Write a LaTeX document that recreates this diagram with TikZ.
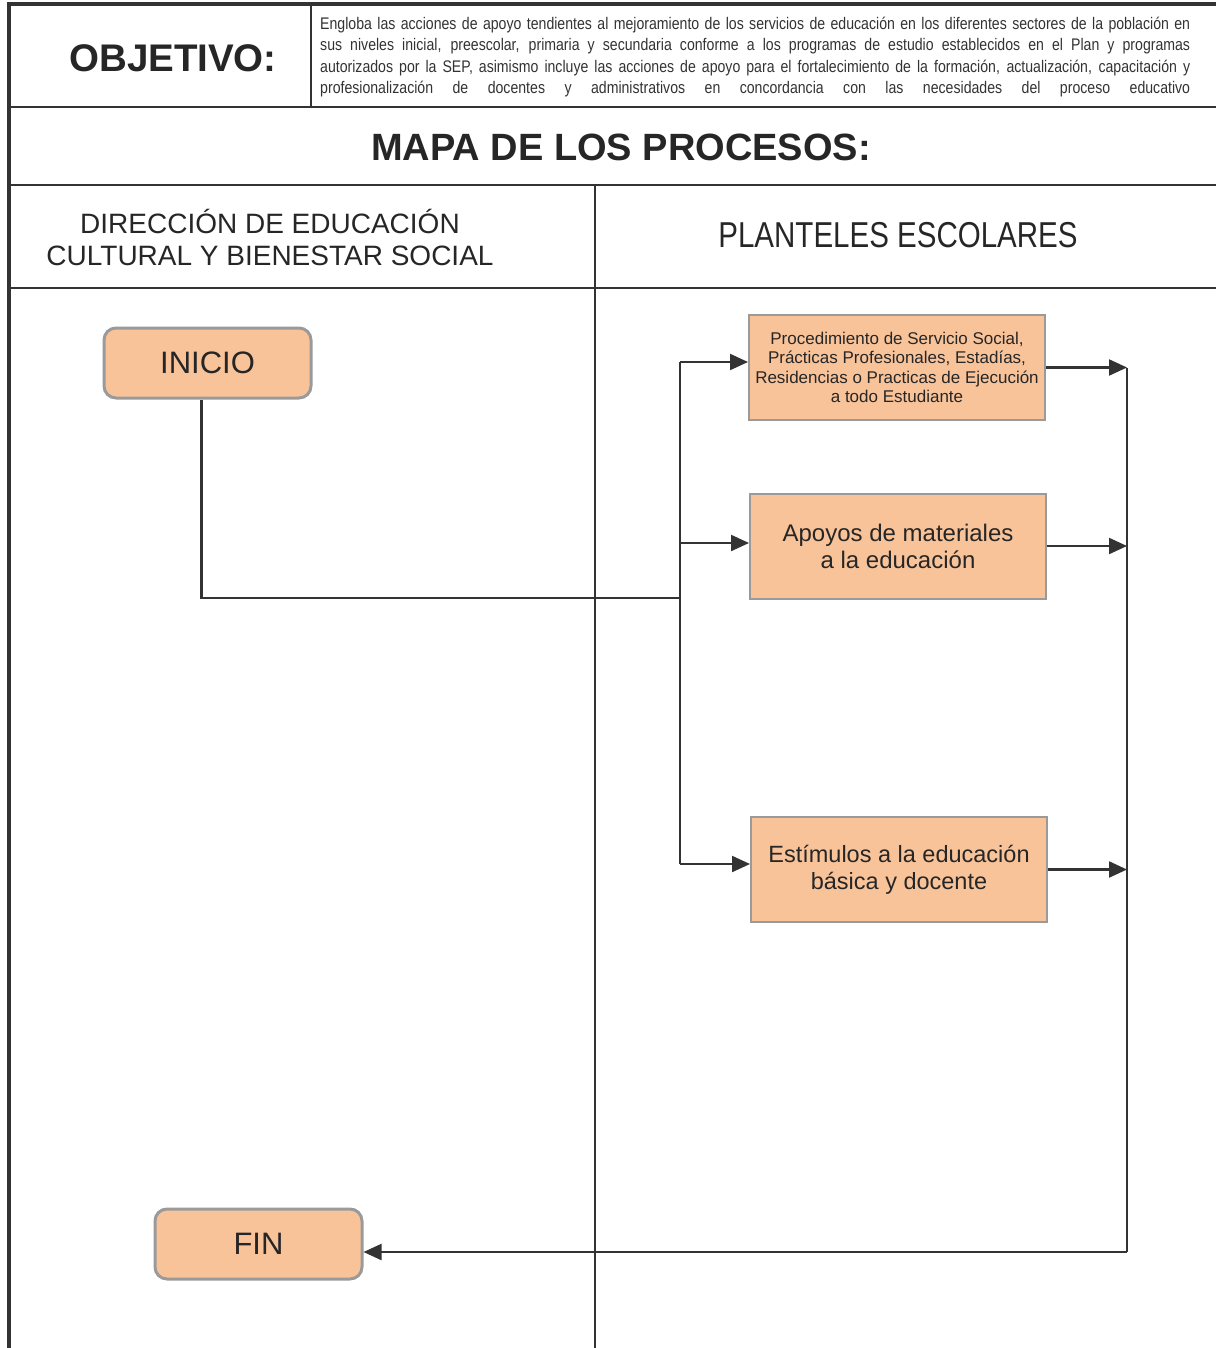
\documentclass[tikz,border=0pt]{standalone}
\usepackage{fontspec}
\setmainfont{Liberation Sans}
\newfontfamily\narrowfont[FakeStretch=0.84]{Liberation Sans}
\newfontfamily\semifont[FakeStretch=0.82]{Liberation Sans}
\usetikzlibrary{arrows.meta}
\definecolor{peach}{HTML}{F9C39A}
\definecolor{edgegray}{HTML}{9A9A9A}
\definecolor{ink}{HTML}{333333}
\definecolor{txt}{HTML}{262626}
\tikzset{
  frame/.style={draw=ink, line width=2.4pt},
  outer/.style={draw=ink, line width=4pt},
  term/.style={draw=edgegray, fill=peach, line width=3pt, rounded corners=12pt,
    minimum width=207pt, minimum height=70pt, inner sep=0pt, text=txt, font=\fontsize{31}{36}\selectfont},
  proc/.style={draw=edgegray, fill=peach, line width=2pt,
    minimum width=296pt, minimum height=105pt, inner sep=0pt, text=txt, align=center},
  conn/.style={draw=ink, line width=2.2pt},
  arr/.style={conn, -{Triangle[length=18pt,width=16pt]}},
  objline/.style={anchor=base west, inner sep=0pt, text=ink, font=\narrowfont\fontsize{16.8}{20}\selectfont}
}
\begin{document}
\begin{tikzpicture}[x=1pt,y=-1pt]
\useasboundingbox (0,0) rectangle (1216,1348);
% frame
\draw[frame] (9,107) -- (1216,107);
\draw[frame] (9,185) -- (1216,185);
\draw[frame] (9,288) -- (1216,288);
\draw[frame] (311,4) -- (311,107);
\draw[frame] (595,185) -- (595,1348);
\draw[outer] (9,1348) -- (9,4) -- (1216,4);
% header texts
\node (obj) at (173,58) {\fontsize{38.5}{40}\selectfont\bfseries\color{txt}OBJETIVO:};
\node[objline] (l1) at (320,30) {\makebox[870pt][s]{Engloba las acciones de apoyo tendientes al mejoramiento de los servicios de educación en los diferentes sectores de la población en}};
\node[objline] (l2) at (320,51) {\makebox[870pt][s]{sus niveles inicial, preescolar, primaria y secundaria conforme a los programas de estudio establecidos en el Plan y programas}};
\node[objline] (l3) at (320,73) {\makebox[870pt][s]{autorizados por la SEP, asimismo incluye las acciones de apoyo para el fortalecimiento de la formación, actualización, capacitación y}};
\node[objline] (l4) at (320,94) {\makebox[870pt][s]{profesionalización de docentes y administrativos en concordancia con las necesidades del proceso educativo}};
\node (mapa) at (621,147) {\fontsize{38}{40}\selectfont\bfseries\color{txt}MAPA DE LOS PROCESOS:};
\node[align=center, text=txt, font=\fontsize{28}{32}\selectfont] (lane1) at (270,237) {DIRECCIÓN DE EDUCACIÓN\\CULTURAL Y BIENESTAR SOCIAL};
\node[text=txt, font=\semifont\fontsize{36}{40}\selectfont] (lane2) at (898,235) {PLANTELES ESCOLARES};
% nodes
\node[term] (inicio) at (207.5,363) {INICIO};
\node[term] (fin) at (258.5,1244) {FIN};
\node[proc, font=\fontsize{17}{19.5}\selectfont] (p1) at (897,367.5) {Procedimiento de Servicio Social,\\Prácticas Profesionales, Estadías,\\Residencias o Practicas de Ejecución\\a todo Estudiante};
\node[proc, font=\fontsize{24}{27}\selectfont] (p2) at (898,546) {Apoyos de materiales\\a la educación};
\node[proc, font=\fontsize{23.5}{27}\selectfont] (p3) at (899,869.5) {Estímulos a la educación\\básica y docente};
% connectors
\coordinate (j) at (680,598);
\coordinate (bt) at (680,362);
\coordinate (bm) at (680,543);
\coordinate (bb) at (680,864);
\coordinate (rt) at (1127,368);
\coordinate (rb) at (1127,1252);
\draw[conn] ([xshift=-6pt]inicio.south) |- (j);
\draw[conn] (bt) -- (bb);
\draw[arr] (bt) -- (bt -| p1.west);
\draw[arr] (bm) -- (bm -| p2.west);
\draw[arr] (bb) -- (bb -| p3.west);
\draw[conn] (rt) -- (rb);
\draw[arr] (p1.east) -- (p1.east -| rt);
\draw[arr] (p2.east) -- (p2.east -| rt);
\draw[arr] (p3.east) -- (p3.east -| rt);
\draw[arr] (rb) -- (rb -| fin.east);
\end{tikzpicture}
\end{document}
